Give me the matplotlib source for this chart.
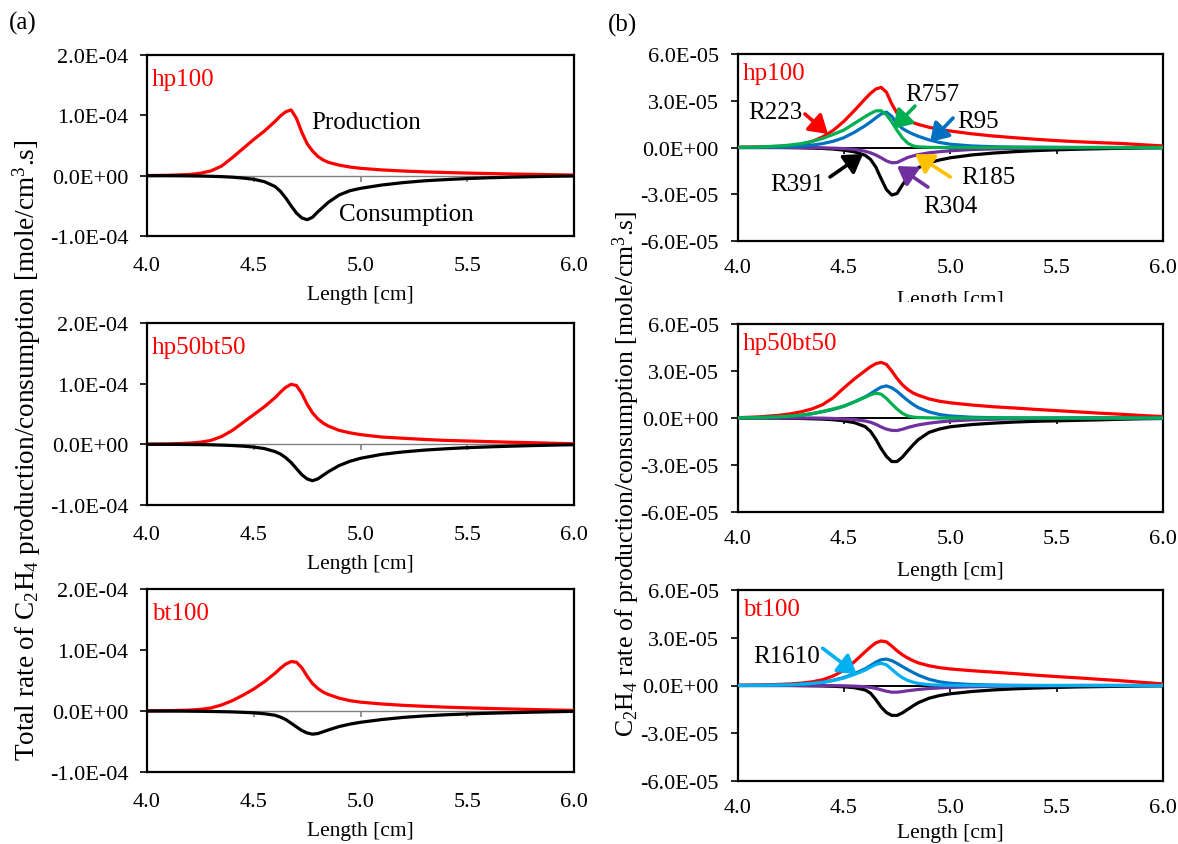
import matplotlib
matplotlib.use('Agg')
import numpy as np
import matplotlib.pyplot as plt
from matplotlib.ticker import FuncFormatter
from matplotlib.patches import Rectangle

plt.rcParams['font.family'] = ['Liberation Serif', 'DejaVu Serif']
plt.rcParams['mathtext.fontset'] = 'custom'
plt.rcParams['mathtext.rm'] = 'Liberation Serif'
plt.rcParams['mathtext.it'] = 'Liberation Serif:italic'
plt.rcParams['mathtext.bf'] = 'Liberation Serif:bold'

# ---------------- data ----------------
length = [4.0, 4.1, 4.2, 4.25, 4.3, 4.35, 4.4, 4.45, 4.5, 4.55, 4.6, 4.625, 4.65, 4.675,
          4.7, 4.725, 4.75, 4.775, 4.8, 4.825, 4.85, 4.9, 4.95, 5.0, 5.1, 5.2, 5.3, 5.4,
          5.5, 5.6, 5.7, 5.8, 5.9, 6.0]

cases = ['hp100', 'hp50bt50', 'bt100']

# (a) total rates, units of 1e-4 mole/cm3.s
total_prod = {
    'hp100': [0.002, 0.006, 0.02, 0.04, 0.08, 0.16, 0.30, 0.45, 0.60, 0.74, 0.90, 0.99, 1.06,
              1.09, 0.95, 0.72, 0.53, 0.41, 0.32, 0.26, 0.22, 0.175, 0.143, 0.122, 0.095,
              0.077, 0.063, 0.052, 0.043, 0.035, 0.028, 0.022, 0.016, 0.01],
    'hp50bt50': [0.002, 0.006, 0.02, 0.035, 0.065, 0.13, 0.23, 0.36, 0.49, 0.62, 0.77, 0.86,
                 0.94, 0.99, 0.97, 0.84, 0.66, 0.52, 0.42, 0.35, 0.30, 0.23, 0.19, 0.16, 0.12,
                 0.10, 0.08, 0.065, 0.055, 0.045, 0.035, 0.027, 0.018, 0.01],
    'bt100': [0.002, 0.005, 0.015, 0.027, 0.05, 0.10, 0.17, 0.26, 0.36, 0.48, 0.62, 0.70, 0.77,
              0.81, 0.80, 0.71, 0.57, 0.45, 0.37, 0.31, 0.27, 0.21, 0.17, 0.145, 0.115, 0.093,
              0.077, 0.063, 0.052, 0.042, 0.033, 0.025, 0.017, 0.01],
}
total_cons = {
    'hp100': [0, 0, -0.003, -0.006, -0.01, -0.016, -0.025, -0.04, -0.06, -0.10, -0.18, -0.26,
              -0.37, -0.50, -0.62, -0.70, -0.73, -0.69, -0.60, -0.52, -0.44, -0.32, -0.25,
              -0.21, -0.155, -0.115, -0.085, -0.065, -0.048, -0.035, -0.025, -0.017, -0.01,
              -0.005],
    'hp50bt50': [0, 0, -0.003, -0.005, -0.008, -0.013, -0.02, -0.03, -0.045, -0.07, -0.12,
                 -0.16, -0.22, -0.30, -0.40, -0.50, -0.57, -0.60, -0.57, -0.51, -0.45, -0.35,
                 -0.28, -0.23, -0.165, -0.125, -0.095, -0.073, -0.055, -0.042, -0.031, -0.021,
                 -0.013, -0.006],
    'bt100': [0, 0, -0.003, -0.005, -0.008, -0.011, -0.015, -0.022, -0.03, -0.045, -0.07, -0.10,
              -0.14, -0.20, -0.26, -0.32, -0.36, -0.38, -0.37, -0.34, -0.31, -0.255, -0.215,
              -0.185, -0.14, -0.105, -0.08, -0.062, -0.048, -0.037, -0.028, -0.02, -0.012,
              -0.006],
}

# (b) individual reaction rates, units of 1e-5 mole/cm3.s
rxn_total_prod = {
    'hp100': [0.01, 0.03, 0.08, 0.13, 0.2, 0.38, 0.68, 1.1, 1.68, 2.38, 3.12, 3.47, 3.75, 3.86,
              3.55, 2.8, 2.2, 1.9, 1.72, 1.6, 1.48, 1.3, 1.16, 1.06, 0.88, 0.74, 0.63, 0.53,
              0.44, 0.37, 0.31, 0.26, 0.18, 0.1],
    'hp50bt50': [0.02, 0.07, 0.18, 0.27, 0.4, 0.58, 0.85, 1.3, 1.92, 2.5, 3.02, 3.27, 3.47, 3.55,
                 3.42, 3.0, 2.52, 2.12, 1.82, 1.6, 1.45, 1.22, 1.07, 0.97, 0.83, 0.72, 0.64,
                 0.55, 0.47, 0.39, 0.31, 0.24, 0.16, 0.09],
    'bt100': [0.01, 0.03, 0.07, 0.1, 0.15, 0.23, 0.36, 0.6, 0.95, 1.5, 2.12, 2.42, 2.68, 2.8,
              2.74, 2.48, 2.18, 1.93, 1.73, 1.56, 1.42, 1.24, 1.12, 1.04, 0.93, 0.84, 0.75,
              0.65, 0.56, 0.48, 0.39, 0.3, 0.2, 0.1],
}
r391 = {
    'hp100': [0, 0, 0, -0.01, -0.02, -0.04, -0.06, -0.1, -0.17, -0.28, -0.5, -0.76, -1.25, -2.0,
              -2.7, -3.05, -2.95, -2.4, -1.95, -1.6, -1.3, -0.98, -0.8, -0.66, -0.48, -0.36,
              -0.27, -0.2, -0.15, -0.11, -0.08, -0.05, -0.03, -0.02],
    'hp50bt50': [0, 0, -0.01, -0.02, -0.03, -0.05, -0.07, -0.11, -0.18, -0.3, -0.55, -0.85,
                 -1.35, -1.95, -2.45, -2.78, -2.78, -2.5, -2.1, -1.72, -1.38, -0.92, -0.7,
                 -0.56, -0.42, -0.33, -0.26, -0.21, -0.18, -0.15, -0.12, -0.08, -0.05, -0.03],
    'bt100': [0, 0, 0, 0, -0.01, -0.02, -0.03, -0.05, -0.08, -0.14, -0.28, -0.48, -0.88, -1.35,
              -1.7, -1.88, -1.88, -1.72, -1.5, -1.28, -1.08, -0.8, -0.63, -0.52, -0.38, -0.28,
              -0.21, -0.16, -0.12, -0.09, -0.07, -0.05, -0.03, -0.02],
}
r304 = {
    'hp100': [0, 0, 0, 0, 0, -0.01, -0.02, -0.04, -0.07, -0.12, -0.24, -0.34, -0.48, -0.66,
              -0.86, -0.98, -0.96, -0.8, -0.64, -0.54, -0.46, -0.34, -0.27, -0.21, -0.13,
              -0.09, -0.06, -0.04, -0.03, -0.02, -0.01, -0.01, 0, 0],
    'hp50bt50': [0, 0, 0, 0, 0, 0, -0.01, -0.03, -0.06, -0.1, -0.19, -0.27, -0.4, -0.57, -0.71,
                 -0.79, -0.8, -0.72, -0.61, -0.52, -0.44, -0.33, -0.25, -0.19, -0.12, -0.08,
                 -0.05, -0.03, -0.02, -0.01, 0, 0, 0, 0],
    'bt100': [0, 0, 0, 0, 0, 0, 0, -0.01, -0.02, -0.04, -0.08, -0.12, -0.18, -0.27, -0.36,
              -0.42, -0.42, -0.38, -0.33, -0.29, -0.25, -0.19, -0.15, -0.12, -0.08, -0.05,
              -0.03, -0.02, -0.01, 0, 0, 0, 0, 0],
}
r95 = {
    'hp100': [0, 0.01, 0.03, 0.05, 0.09, 0.15, 0.25, 0.4, 0.63, 0.98, 1.4, 1.64, 1.9, 2.15, 2.27,
              2.0, 1.55, 1.22, 1.02, 0.86, 0.72, 0.49, 0.32, 0.21, 0.1, 0.05, 0.03, 0.02, 0.01,
              0, 0, 0, 0, 0],
    'hp50bt50': [0.01, 0.03, 0.08, 0.12, 0.18, 0.27, 0.4, 0.55, 0.75, 1.03, 1.35, 1.55, 1.77,
                 1.97, 2.05, 1.93, 1.7, 1.4, 1.12, 0.87, 0.66, 0.39, 0.22, 0.13, 0.05, 0.02,
                 0.01, 0, 0, 0, 0, 0, 0, 0],
    'bt100': [0, 0.01, 0.03, 0.05, 0.08, 0.13, 0.2, 0.33, 0.5, 0.75, 1.05, 1.25, 1.46, 1.62,
              1.66, 1.56, 1.39, 1.19, 1.0, 0.82, 0.65, 0.39, 0.23, 0.14, 0.06, 0.03, 0.01, 0,
              0, 0, 0, 0, 0, 0],
}
r757 = {
    'hp100': [0.01, 0.03, 0.1, 0.16, 0.25, 0.39, 0.58, 0.84, 1.12, 1.55, 1.98, 2.18, 2.35, 2.36,
              2.1, 1.65, 1.1, 0.62, 0.28, 0.1, 0.04, 0.01, 0, 0, 0, 0, 0, 0, 0, 0, 0, 0, 0, 0],
    'hp50bt50': [0.01, 0.03, 0.08, 0.12, 0.18, 0.28, 0.42, 0.58, 0.76, 1.03, 1.33, 1.48, 1.59,
                 1.52, 1.25, 0.9, 0.57, 0.3, 0.13, 0.06, 0.03, 0.01, 0, 0, 0, 0, 0, 0, 0, 0,
                 0, 0, 0, 0],
}
r1610_bt100 = [0, 0.01, 0.03, 0.05, 0.08, 0.13, 0.2, 0.31, 0.47, 0.7, 0.97, 1.15, 1.32, 1.4,
               1.3, 1.02, 0.73, 0.49, 0.32, 0.21, 0.13, 0.05, 0.02, 0.01, 0, 0, 0, 0, 0, 0, 0,
               0, 0, 0]

left_yticks = [-1e-4, 0.0, 1e-4, 2e-4]
right_yticks = [-6e-5, -3e-5, 0.0, 3e-5, 6e-5]
xticks = [4.0, 4.5, 5.0, 5.5, 6.0]

# ---------------- figure ----------------
W, H = 1178, 845
fig = plt.figure(figsize=(W / 100, H / 100), dpi=100)

left_rows = [(56, 237), (324, 506), (590, 773)]
right_rows = [(55, 242), (325, 513), (591, 782)]
right_xlabel_off = [49, 49, 42]
lx0, lx1 = 147, 574
rx0, rx1 = 737.5, 1163

def mk_axes(x0, x1, top, bot):
    return fig.add_axes([x0 / W, 1 - bot / H, (x1 - x0) / W, (bot - top) / H])

sci = FuncFormatter(lambda v, p: f"{v:.1E}")

def style(ax, yticks, zero_color, zero_lw, xpad, hpx, lab_off):
    ax.set_xlim(4.0, 6.0)
    ax.set_ylim(yticks[0], yticks[-1])
    ax.set_yticks(yticks)
    ax.yaxis.set_major_formatter(sci)
    ax.set_xticks(xticks)
    ax.set_xticklabels([f"{t:.1f}" for t in xticks])
    ax.tick_params(axis='x', length=0, pad=xpad, labelsize=16)
    ax.tick_params(axis='y', direction='out', length=5, width=1.2, pad=8.5, labelsize=16)
    for s in ax.spines.values():
        s.set_linewidth(1.6)
        s.set_color('black')
    ax.axhline(0, color=zero_color, lw=zero_lw, zorder=1)
    sec = ax.secondary_xaxis(0, transform=ax.transData)
    sec.set_xticks(xticks)
    sec.tick_params(axis='x', direction='out', length=4.5, width=1.2, color=zero_color,
                    labelbottom=False)
    sec.spines['bottom'].set_visible(False)
    ax.set_xlabel('Length [cm]', fontsize=15.5)
    ax.xaxis.set_label_coords(0.5, -lab_off / hpx)

LW = 2.3
kw = dict(lw=LW, zorder=3, solid_joinstyle='round', solid_capstyle='round')

# (a) column
for i, case in enumerate(cases):
    top, bot = left_rows[i]
    ax = mk_axes(lx0, lx1, top, bot)
    style(ax, left_yticks, '#808080', 1.0, 14.5, bot - top, 49)
    ax.plot(length, np.array(total_prod[case]) * 1e-4, color='#ff0000', **kw)
    ax.plot(length, np.array(total_cons[case]) * 1e-4, color='black', **kw)
    ax.text(0.012, 0.87, case, color='#ff0000', fontsize=18, transform=ax.transAxes,
            ha='left', va='center')
    if i == 0:
        ax.text(4.77, 0.89e-4, 'Production', fontsize=18, ha='left', va='center')
        ax.text(4.90, -0.63e-4, 'Consumption', fontsize=18, ha='left', va='center')

# (b) column
c_red, c_blk, c_grn, c_blu = '#ff0000', 'black', '#00b050', '#0070c0'
c_pur, c_yel, c_lbl = '#7030a0', '#ffc000', '#00b0f0'
for i, case in enumerate(cases):
    top, bot = right_rows[i]
    ax = mk_axes(rx0, rx1, top, bot)
    style(ax, right_yticks, 'black', 1.4, 12, bot - top, right_xlabel_off[i])
    sc = 1e-5
    ax.plot(length, np.array(r391[case]) * sc, color=c_blk, **kw)
    ax.plot(length, np.array(r304[case]) * sc, color=c_pur, **kw)
    ax.plot(length, np.array(rxn_total_prod[case]) * sc, color=c_red, **kw)
    ax.plot(length, np.array(r95[case]) * sc, color=c_blu, **kw)
    if case in r757:
        ax.plot(length, np.array(r757[case]) * sc, color=c_grn, **kw)
    if case == 'bt100':
        ax.plot(length, np.array(r1610_bt100) * sc, color=c_lbl, **kw)
    ax.text(0.013, 0.90, case, color='#ff0000', fontsize=18, transform=ax.transAxes,
            ha='left', va='center')

    def arrow(head, tail, color):
        ax.annotate('', xy=head, xytext=tail, zorder=5,
                    arrowprops=dict(arrowstyle='-|>,head_length=0.6,head_width=0.38',
                                    color=color, lw=2.6, shrinkA=0, shrinkB=0,
                                    mutation_scale=18))

    if i == 0:
        ax.text(4.176, 2.28e-5, 'R223', fontsize=18, ha='center', va='center')
        arrow((4.425, 0.87e-5), (4.317, 2.15e-5), c_red)
        ax.text(4.914, 3.43e-5, 'R757', fontsize=18, ha='center', va='center')
        arrow((4.731, 1.19e-5), (4.834, 2.66e-5), c_grn)
        ax.text(5.13, 1.70e-5, 'R95', fontsize=18, ha='center', va='center')
        arrow((4.905, 0.35e-5), (5.013, 1.89e-5), c_blu)
        ax.text(4.28, -2.34e-5, 'R391', fontsize=18, ha='center', va='center')
        arrow((4.59, -0.42e-5), (4.435, -1.89e-5), c_blk)
        ax.text(5.0, -3.75e-5, 'R304', fontsize=18, ha='center', va='center')
        arrow((4.75, -1.19e-5), (4.895, -2.54e-5), c_pur)
        ax.text(5.18, -1.89e-5, 'R185', fontsize=18, ha='center', va='center')
        arrow((4.834, -0.42e-5), (5.0, -1.89e-5), c_yel)
    if i == 2:
        ax.text(4.231, 1.87e-5, 'R1610', fontsize=18, ha='center', va='center')
        arrow((4.56, 0.72e-5), (4.40, 2.34e-5), c_lbl)

# y-axis titles
fig.text(27 / W, 1 - 450 / H,
         r'Total rate of C$_\mathregular{2}$H$_\mathregular{4}$ production/consumption [mole/cm$^\mathregular{3}$.s]',
         rotation=90, ha='center', va='center', fontsize=19.6)
fig.text(626 / W, 1 - 474 / H,
         r'C$_\mathregular{2}$H$_\mathregular{4}$ rate of production/consumption [mole/cm$^\mathregular{3}$.s]',
         rotation=90, ha='center', va='center', fontsize=18.5)

fig.text(9 / W, 1 - 23 / H, '(a)', fontsize=18, ha='left', va='center')
fig.text(608 / W, 1 - 25 / H, '(b)', fontsize=18, ha='left', va='center')

# white chart-area edge hiding the lower part of the first (b) x-label
fig.patches.append(Rectangle((690 / W, 1 - 316 / H), (W - 690) / W, 13 / H,
                             transform=fig.transFigure, facecolor='white',
                             edgecolor='none', zorder=5))

fig.savefig('out.png', dpi=100)
